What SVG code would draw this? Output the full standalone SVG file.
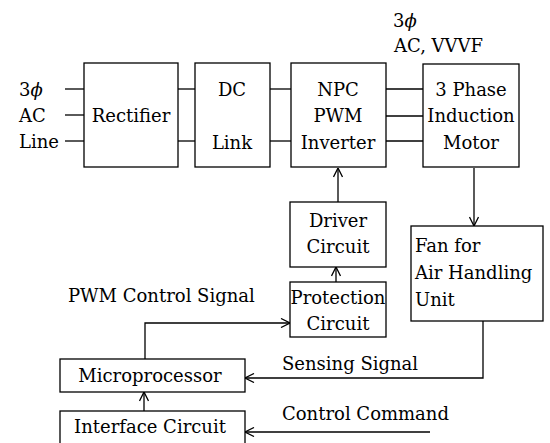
<svg xmlns="http://www.w3.org/2000/svg" width="550" height="443" viewBox="0 0 550 443">
<defs>
<style>
.box{fill:#fff;stroke:#000;stroke-width:1.3}
.ln{fill:none;stroke:#000;stroke-width:1.3}
text{font-family:"DejaVu Serif","Liberation Serif",serif;font-size:18px;fill:#000}
.c{text-anchor:middle}
</style>
<marker id="arr" viewBox="0 0 10 10" refX="10" refY="5" markerWidth="10" markerHeight="10" markerUnits="userSpaceOnUse" orient="auto">
<path d="M1,0.5 L10,5 L1,9.5" fill="none" stroke="#000" stroke-width="1.3"/>
</marker>
</defs>
<rect width="550" height="443" fill="#fff"/>
<g id="connectors">
<line class="ln" x1="65" y1="89" x2="84" y2="89"/>
<line class="ln" x1="65" y1="115" x2="84" y2="115"/>
<line class="ln" x1="65" y1="141" x2="84" y2="141"/>
<line class="ln" x1="178" y1="89" x2="195" y2="89"/>
<line class="ln" x1="178" y1="141" x2="195" y2="141"/>
<line class="ln" x1="270" y1="89" x2="291" y2="89"/>
<line class="ln" x1="270" y1="141" x2="291" y2="141"/>
<line class="ln" x1="386" y1="89" x2="423" y2="89"/>
<line class="ln" x1="386" y1="116" x2="423" y2="116"/>
<line class="ln" x1="386" y1="141" x2="423" y2="141"/>
<line class="ln" x1="338" y1="202" x2="338" y2="168" marker-end="url(#arr)"/>
<line class="ln" x1="336" y1="282" x2="336" y2="267" marker-end="url(#arr)"/>
<line class="ln" x1="474" y1="168" x2="474" y2="226" marker-end="url(#arr)"/>
<polyline class="ln" points="145,359 145,323 290,323" marker-end="url(#arr)"/>
<polyline class="ln" points="483,321 483,378 245,378" marker-end="url(#arr)"/>
<line class="ln" x1="144" y1="411" x2="144" y2="392" marker-end="url(#arr)"/>
<line class="ln" x1="430" y1="432" x2="245" y2="432" marker-end="url(#arr)"/>
</g>
<g id="input-label">
<text x="19" y="96">3<tspan font-style="italic">ϕ</tspan></text>
<text x="19" y="122">AC</text>
<text x="19" y="148">Line</text>
</g>
<g id="rectifier">
<rect class="box" x="84" y="63" width="94" height="104"/>
<text class="c" x="131" y="122">Rectifier</text>
</g>
<g id="dclink">
<rect class="box" x="195" y="63" width="75" height="104"/>
<text class="c" x="232" y="96">DC</text>
<text class="c" x="232" y="149">Link</text>
</g>
<g id="inverter">
<rect class="box" x="291" y="63" width="95" height="104"/>
<text class="c" x="338" y="96">NPC</text>
<text class="c" x="338" y="122">PWM</text>
<text class="c" x="338" y="149">Inverter</text>
</g>
<g id="output-label">
<text x="393" y="27">3<tspan font-style="italic">ϕ</tspan></text>
<text x="394" y="52">AC, VVVF</text>
</g>
<g id="motor">
<rect class="box" x="423" y="64" width="96" height="103"/>
<text class="c" x="471" y="96">3 Phase</text>
<text class="c" x="471" y="122">Induction</text>
<text class="c" x="471" y="149">Motor</text>
</g>
<g id="driver">
<rect class="box" x="290" y="202" width="96" height="65"/>
<text class="c" x="338" y="227">Driver</text>
<text class="c" x="338" y="253">Circuit</text>
</g>
<g id="protection">
<rect class="box" x="290" y="282" width="96" height="55"/>
<text class="c" x="338" y="304">Protection</text>
<text class="c" x="338" y="330">Circuit</text>
</g>
<g id="fan">
<rect class="box" x="411" y="226" width="132" height="95"/>
<text x="415" y="252">Fan for</text>
<text x="415" y="279">Air Handling</text>
<text x="415" y="306">Unit</text>
</g>
<g id="pwm-label"><text x="68" y="302">PWM Control Signal</text></g>
<g id="sensing-label"><text x="282" y="370">Sensing Signal</text></g>
<g id="command-label"><text x="282" y="420">Control Command</text></g>
<g id="microprocessor">
<rect class="box" x="60" y="359" width="185" height="33"/>
<text class="c" x="150" y="382">Microprocessor</text>
</g>
<g id="interface">
<rect class="box" x="60" y="411" width="185" height="34"/>
<text class="c" x="150" y="433">Interface Circuit</text>
</g>
</svg>
